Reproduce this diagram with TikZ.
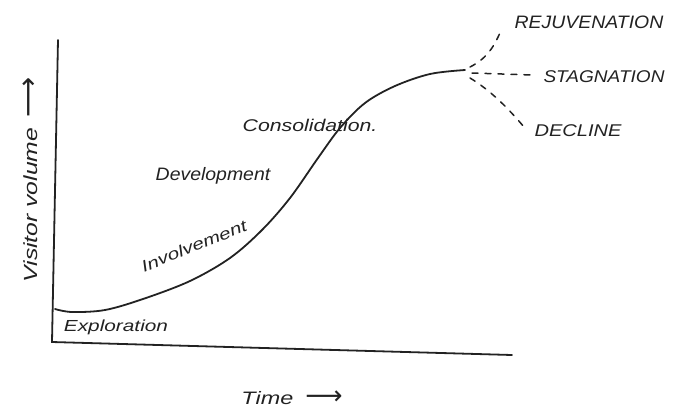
\documentclass[tikz,border=0pt]{standalone}
\usepackage{fontspec}
\setmainfont{Liberation Sans}
\newfontfamily\arrowfont{DejaVu Sans}
\usepackage{graphicx}
\definecolor{ink}{HTML}{222222}
\newcommand\hwtext[3]{\scalebox{#1}[1]{\fontsize{#2}{#2}\selectfont\itshape #3}}
\newcommand\hwarrow[1]{{\arrowfont\fontsize{#1}{#1}\selectfont ⟶}}
\begin{document}
\begin{tikzpicture}[x=1pt,y=-1pt,
  axisline/.style={draw=ink,line width=1.8pt,line cap=round},
  curveline/.style={draw=ink,line width=1.8pt,line cap=round},
  branch/.style={draw=ink,line width=1.5pt,dash pattern=on 6pt off 7pt,line cap=round},
  lbl/.style={text=ink,inner sep=0pt,anchor=center}]
\useasboundingbox (0,0) rectangle (679,410);
% axes
\coordinate (ytop) at (58,40);
\coordinate (origin) at (52,342);
\coordinate (xend) at (512,355);
\draw[axisline] (ytop) -- (origin) -- (xend);
% curve
\coordinate (peak) at (465,70);
\draw[curveline] plot[smooth,tension=0.55] coordinates {(55,309) (72,312) (105,310) (143,299) (190,281) (230,258) (262,230) (290,198) (318,158) (340,128) (365,103) (395,86) (430,74) (465,70)};
% branches
\coordinate (rj) at (502,28);
\coordinate (st) at (532,75);
\coordinate (dc) at (524,127);
\draw[branch] (470,67) .. controls (488,58) and (495,45) .. (rj);
\draw[branch] (472,73) -- (st);
\draw[branch] (470,78) .. controls (490,90) and (508,108) .. (dc);
% labels
\node[lbl] (rejuv) at (589,22) {\hwtext{1.08}{18}{REJUVENATION}};
\node[lbl] (stag) at (604,77) {\hwtext{1.12}{17}{STAGNATION}};
\node[lbl] (decl) at (578,131) {\hwtext{1.18}{17}{DECLINE}};
\node[lbl] (explo) at (116,327) {\hwtext{1.3}{16}{Exploration}};
\node[lbl,rotate=22] (invol) at (194,246) {\hwtext{1.3}{16}{Involvement}};
\node[lbl] (devel) at (213,176) {\hwtext{1.08}{18}{Development}};
\node[lbl] (consol) at (310,125) {\hwtext{1.25}{17}{Consolidation.}};
\node[lbl] (time) at (292,398) {\hwtext{1.3}{18}{Time}\hspace{12pt}\hwarrow{26}};
\node[lbl,rotate=90] (vis) at (30,180) {\hwtext{1.3}{19}{Visitor volume}\hspace{10pt}\hwarrow{28}};
\end{tikzpicture}
\end{document}
